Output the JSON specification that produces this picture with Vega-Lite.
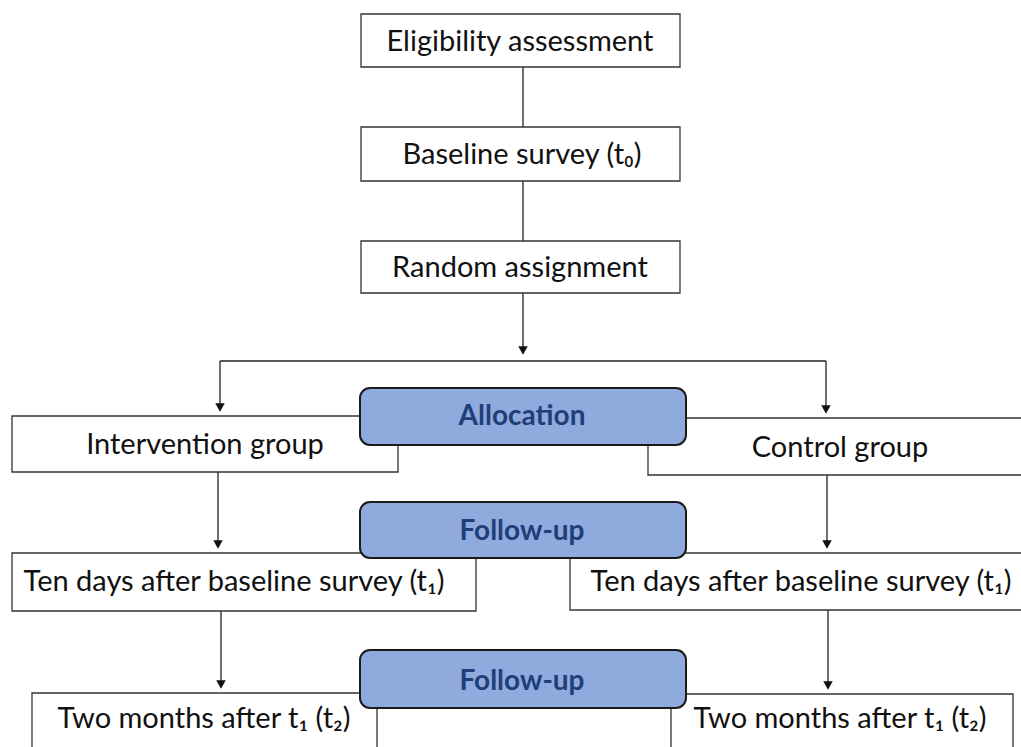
{
  "$schema": "https://vega.github.io/schema/vega-lite/v6.json",
  "width": 1021,
  "height": 747,
  "autosize": "none",
  "padding": 0,
  "background": "white",
  "config": {"view": {"stroke": null}},
  "datasets": {
    "boxes": [
      {"name": "Eligibility", "x": 361, "x2": 680, "y": 14, "y2": 67},
      {"name": "Baseline", "x": 361, "x2": 680, "y": 127, "y2": 181},
      {"name": "Random", "x": 361, "x2": 680, "y": 241, "y2": 293},
      {"name": "Intervention", "x": 12, "x2": 398, "y": 416, "y2": 472},
      {"name": "Control", "x": 648, "x2": 1040, "y": 418, "y2": 475},
      {"name": "TenL", "x": 12, "x2": 476, "y": 553, "y2": 611},
      {"name": "TenR", "x": 570, "x2": 1040, "y": 553, "y2": 610},
      {"name": "TwoL", "x": 32, "x2": 377, "y": 693, "y2": 780},
      {"name": "TwoR", "x": 671, "x2": 1013, "y": 694, "y2": 780}
    ],
    "phases": [
      {"name": "Allocation", "x": 360, "x2": 686, "y": 388, "y2": 445},
      {"name": "Follow1", "x": 360, "x2": 686, "y": 502, "y2": 558},
      {"name": "Follow2", "x": 360, "x2": 686, "y": 650, "y2": 708}
    ],
    "lines": [
      {"x": 523, "x2": 523, "y": 67, "y2": 127},
      {"x": 523, "x2": 523, "y": 181, "y2": 241},
      {"x": 523, "x2": 523, "y": 293, "y2": 352},
      {"x": 220, "x2": 826, "y": 361, "y2": 361},
      {"x": 220, "x2": 220, "y": 361, "y2": 407},
      {"x": 826, "x2": 826, "y": 361, "y2": 409},
      {"x": 218, "x2": 218, "y": 472, "y2": 544},
      {"x": 827, "x2": 827, "y": 475, "y2": 544},
      {"x": 221, "x2": 221, "y": 611, "y2": 684},
      {"x": 828, "x2": 828, "y": 610, "y2": 685}
    ],
    "arrows": [
      {"x": 523, "y": 352},
      {"x": 220, "y": 409},
      {"x": 826, "y": 411},
      {"x": 218, "y": 546},
      {"x": 827, "y": 546},
      {"x": 221, "y": 686},
      {"x": 828, "y": 687}
    ],
    "labels": [
      {"label": "Eligibility assessment", "x": 520, "y": 42},
      {"label": "Baseline survey (t₀)", "x": 522, "y": 155},
      {"label": "Random assignment", "x": 520, "y": 268},
      {"label": "Intervention group", "x": 205, "y": 445},
      {"label": "Control group", "x": 840, "y": 448},
      {"label": "Ten days after baseline survey (t₁)", "x": 234, "y": 582},
      {"label": "Ten days after baseline survey (t₁)", "x": 801, "y": 582},
      {"label": "Two months after t₁ (t₂)", "x": 204, "y": 719},
      {"label": "Two months after t₁ (t₂)", "x": 840, "y": 719}
    ],
    "phaseLabels": [
      {"label": "Allocation", "x": 522, "y": 417},
      {"label": "Follow-up", "x": 522, "y": 532},
      {"label": "Follow-up", "x": 522, "y": 682}
    ]
  },
  "layer": [
    {
      "data": {"name": "lines"},
      "mark": {"type": "rule", "color": "#222222", "strokeWidth": 1.3, "clip": true},
      "encoding": {
        "x": {"field": "x", "type": "quantitative", "scale": {"domain": [0, 1021], "range": [0, 1021], "zero": false, "nice": false}, "axis": null},
        "x2": {"field": "x2"},
        "y": {"field": "y", "type": "quantitative", "scale": {"domain": [0, 747], "range": [0, 747], "zero": false, "nice": false}, "axis": null},
        "y2": {"field": "y2"}
      }
    },
    {
      "data": {"name": "arrows"},
      "mark": {"type": "point", "shape": "M-1,-1.2L1,-1.2L0,0.6Z", "filled": true, "color": "#111111", "size": 90, "opacity": 1},
      "encoding": {
        "x": {"field": "x", "type": "quantitative"},
        "y": {"field": "y", "type": "quantitative"}
      }
    },
    {
      "data": {"name": "boxes"},
      "mark": {"type": "rect", "fill": "white", "stroke": "#333333", "strokeWidth": 1.3, "clip": true},
      "encoding": {
        "x": {"field": "x", "type": "quantitative"},
        "x2": {"field": "x2"},
        "y": {"field": "y", "type": "quantitative"},
        "y2": {"field": "y2"}
      }
    },
    {
      "data": {"name": "phases"},
      "mark": {"type": "rect", "fill": "#8FAADC", "stroke": "#1a1a1a", "strokeWidth": 2, "cornerRadius": 10, "clip": true},
      "encoding": {
        "x": {"field": "x", "type": "quantitative"},
        "x2": {"field": "x2"},
        "y": {"field": "y", "type": "quantitative"},
        "y2": {"field": "y2"}
      }
    },
    {
      "data": {"name": "labels"},
      "mark": {"type": "text", "font": "Lato", "fontSize": 29, "color": "#111111", "align": "center", "baseline": "middle"},
      "encoding": {
        "x": {"field": "x", "type": "quantitative"},
        "y": {"field": "y", "type": "quantitative"},
        "text": {"field": "label", "type": "nominal"}
      }
    },
    {
      "data": {"name": "phaseLabels"},
      "mark": {"type": "text", "font": "Lato", "fontSize": 28, "fontWeight": "bold", "color": "#203F7A", "align": "center", "baseline": "middle"},
      "encoding": {
        "x": {"field": "x", "type": "quantitative"},
        "y": {"field": "y", "type": "quantitative"},
        "text": {"field": "label", "type": "nominal"}
      }
    }
  ]
}
